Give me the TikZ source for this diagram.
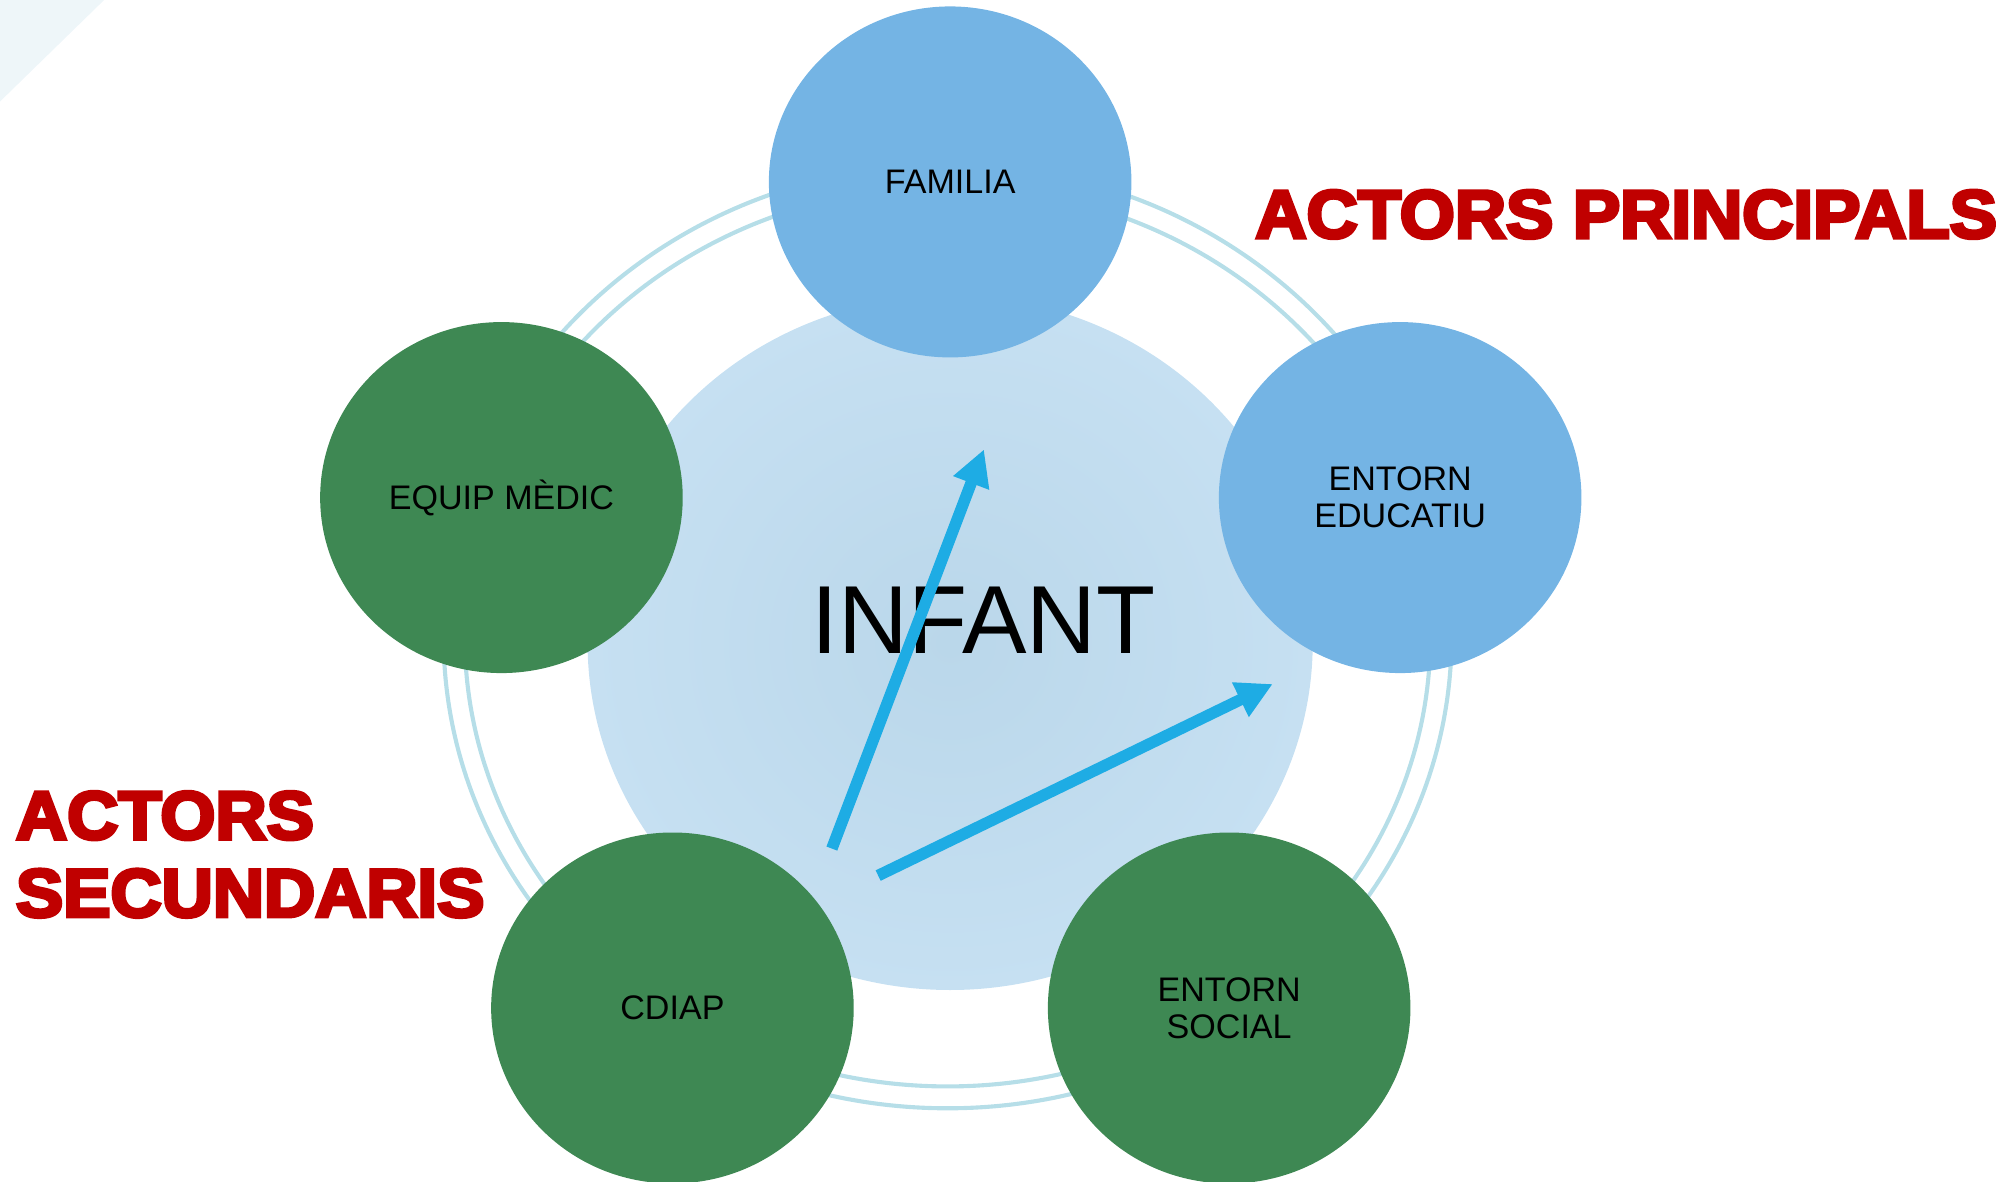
\documentclass[tikz,border=0pt]{standalone}
\usepackage{fontspec}
\setmainfont{Liberation Sans}
\newfontfamily\heavyfont{Liberation Sans}[BoldFeatures={FakeBold=5}]
\usetikzlibrary{shapes.geometric,arrows.meta}
\definecolor{nodeblue}{RGB}{116,180,228}
\definecolor{nodegreen}{RGB}{62,136,83}
\definecolor{ringblue}{RGB}{182,222,232}
\definecolor{infantin}{RGB}{186,215,234}
\definecolor{infantout}{RGB}{198,224,242}
\definecolor{arrowblue}{RGB}{30,172,228}
\definecolor{cornerfill}{RGB}{238,246,249}
\definecolor{headred}{RGB}{192,0,0}
\begin{document}
\begin{tikzpicture}[x=0.5pt,y=-0.5pt,
  actor/.style={ellipse, minimum width=141pt, minimum height=136.5pt, inner sep=0pt,
    font=\fontsize{13.25}{14.5}\selectfont, align=center, text=black},
  bluenode/.style={actor, fill=nodeblue},
  greennode/.style={actor, fill=nodegreen},
  ring/.style={draw=ringblue, line width=1.6pt},
  flow/.style={draw=arrowblue, line width=4.5pt, -{Triangle[length=14pt,width=14pt]}},
  heading/.style={font=\heavyfont\bfseries\fontsize{26.5}{30}\selectfont, text=headred,
    inner sep=0pt, anchor=base west, xscale=1.04, transform shape}]
\useasboundingbox (0,0) rectangle (1568,919.3);
\fill[cornerfill] (0,0) -- (81,0) -- (0,79) -- cycle;
% double ring
\draw[ring] (737,495) ellipse [x radius=392, y radius=367];
\draw[ring] (737,495) ellipse [x radius=375.5, y radius=350];
% central circle
\node[ellipse, minimum width=282pt, minimum height=270pt, inner sep=0pt,
  inner color=infantin, outer color=infantout] (infant) at (739,500) {};
\node[font=\fontsize{37.6}{40}\selectfont, inner sep=0pt] (infanttext) at (765,482.5) {INFANT};
% actors
\node[bluenode] (familia) at (739,141.5) {FAMILIA};
\node[bluenode] (educatiu) at (1089,387) {ENTORN\\EDUCATIU};
\node[greennode, text height=9.5pt, text depth=0pt] (medic) at (390,387) {EQUIP MÈDIC};
\node[greennode] (cdiap) at (523,784) {CDIAP};
\node[greennode] (social) at (956,784) {ENTORN\\SOCIAL};
% arrows
\coordinate (a1s) at (647,660);
\coordinate (a1e) at (765.3,349.5);
\coordinate (a2s) at (683,681);
\coordinate (a2e) at (989.9,532);
\draw[flow] (a1s) -- (a1e);
\draw[flow] (a2s) -- (a2e);
% headings
\node[heading] (principals) at (976,185) {ACTORS PRINCIPALS};
\node[heading] (secA) at (12,652.6) {ACTORS};
\node[heading] (secB) at (12,713) {SECUNDARIS};
\end{tikzpicture}
\end{document}
